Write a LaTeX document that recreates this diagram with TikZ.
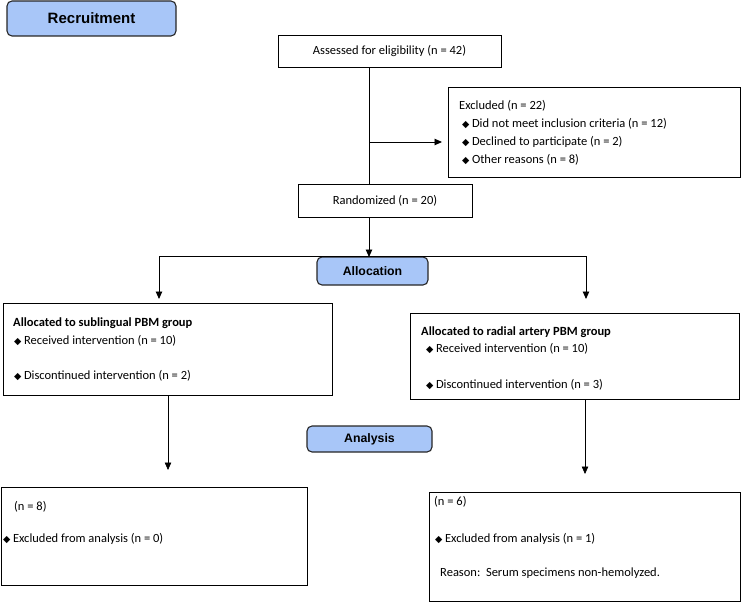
\documentclass[tikz,border=0pt]{standalone}
\usepackage{fontspec}
\setmainfont{Carlito}
\newfontfamily\arialfont{Liberation Sans}
\newfontfamily\dvfont{DejaVu Sans}
\usetikzlibrary{arrows.meta}
\definecolor{phase}{RGB}{168,198,248}
\newcommand\bul{{\dvfont\fontsize{9.5}{9.5}\selectfont ◆}\hspace{2.5pt}}
\begin{document}
\begin{tikzpicture}[x=1pt,y=-1pt,
 box/.style={draw, line width=0.9pt, anchor=north west, inner sep=0pt, outer sep=0pt, font=\fontsize{12.5}{15}\selectfont},
 phasebox/.style={draw=black!85, line width=1.1pt, fill=phase, rounded corners=5pt, anchor=north west, inner sep=0pt, outer sep=0pt},
 txt/.style={anchor=west, inner sep=0pt, font=\fontsize{12.5}{15}\selectfont},
 btxt/.style={txt, font=\fontsize{12.5}{15}\selectfont\bfseries},
 conn/.style={line width=0.9pt},
 arr/.style={line width=0.9pt, -{Triangle[width=6.5pt,length=7.5pt]}},
 thinarr/.style={line width=0.6pt, -{Triangle[width=6.5pt,length=7.5pt]}}]

\useasboundingbox (0,0) rectangle (741,602);

% phase labels
\node[phasebox, minimum width=169pt, minimum height=35pt, font=\arialfont\bfseries\fontsize{15}{17}\selectfont] (recr) at (7,1) {Recruitment};
\node[phasebox, minimum width=111pt, minimum height=28pt, font=\arialfont\bfseries\fontsize{12.3}{14}\selectfont] (alloc) at (317,257) {Allocation};
\node[phasebox, minimum width=125pt, minimum height=26pt, font=\arialfont\bfseries\fontsize{12.3}{14}\selectfont] (anal) at (307,426) {Analysis};

% boxes
\node[box, minimum width=223pt, minimum height=32pt] (assess) at (278,35) {Assessed for eligibility (n = 42)};
\node[box, minimum width=292pt, minimum height=90pt] (excl) at (448,87) {};
\node[box, minimum width=174pt, minimum height=33pt] (rand) at (298,184) {Randomized (n = 20)};
\node[box, minimum width=329pt, minimum height=92pt] (sub) at (3,303) {};
\node[box, minimum width=329pt, minimum height=86pt] (rad) at (410,313) {};
\node[box, minimum width=306pt, minimum height=98pt] (bl) at (1,487) {};
\node[box, minimum width=311pt, minimum height=109pt] (br) at (429,492) {};

% texts
\node[txt] (ex0) at (459,106) {Excluded (n = 22)};
\node[txt] (ex1) at (462,124) {\bul Did not meet inclusion criteria (n = 12)};
\node[txt] (ex2) at (462,142) {\bul Declined to participate (n = 2)};
\node[txt] (ex3) at (462,160) {\bul Other reasons (n = 8)};

\node[btxt] (s0) at (13,323) {Allocated to sublingual PBM group};
\node[txt] (s1) at (14,341) {\bul Received intervention (n = 10)};
\node[txt] (s2) at (14,376) {\bul Discontinued intervention (n = 2)};

\node[btxt] (r0) at (421,332) {Allocated to radial artery PBM group};
\node[txt] (r1) at (426,349) {\bul Received intervention (n = 10)};
\node[txt] (r2) at (426,385) {\bul Discontinued intervention (n = 3)};

\node[txt] (b0) at (14,507) {(n = 8)};
\node[txt] (b1) at (3,539) {\bul Excluded from analysis (n = 0)};

\node[txt] (c0) at (434,502) {(n = 6)};
\node[txt] (c1) at (435,539) {\bul Excluded from analysis (n = 1)};
\node[txt] (c2) at (440,573) {Reason:\ \ Serum specimens non-hemolyzed.};

% connectors
\coordinate (cx) at (369,0);
\coordinate (j1) at (369,142);
\coordinate (hl) at (159,256);
\coordinate (hr) at (586,256);
\coordinate (lx) at (168,0);
\coordinate (rx) at (585,0);

\draw[conn] (assess.south -| cx) -- (rand.north -| cx);
\draw[arr, shorten >=6pt] (j1) -- (j1 -| excl.west);
\draw[arr] (rand.south -| cx) -- (alloc.north -| cx);
\draw[conn] (hl) -- (hr);
\draw[arr, shorten >=4pt] (hl) -- (hl |- sub.north);
\draw[arr, shorten >=14pt] (hr) -- (hr |- rad.north);
\draw[thinarr, shorten >=17pt] (sub.south -| lx) -- (bl.north -| lx);
\draw[thinarr, shorten >=18pt] (rad.south -| rx) -- (br.north -| rx);
\end{tikzpicture}
\end{document}
